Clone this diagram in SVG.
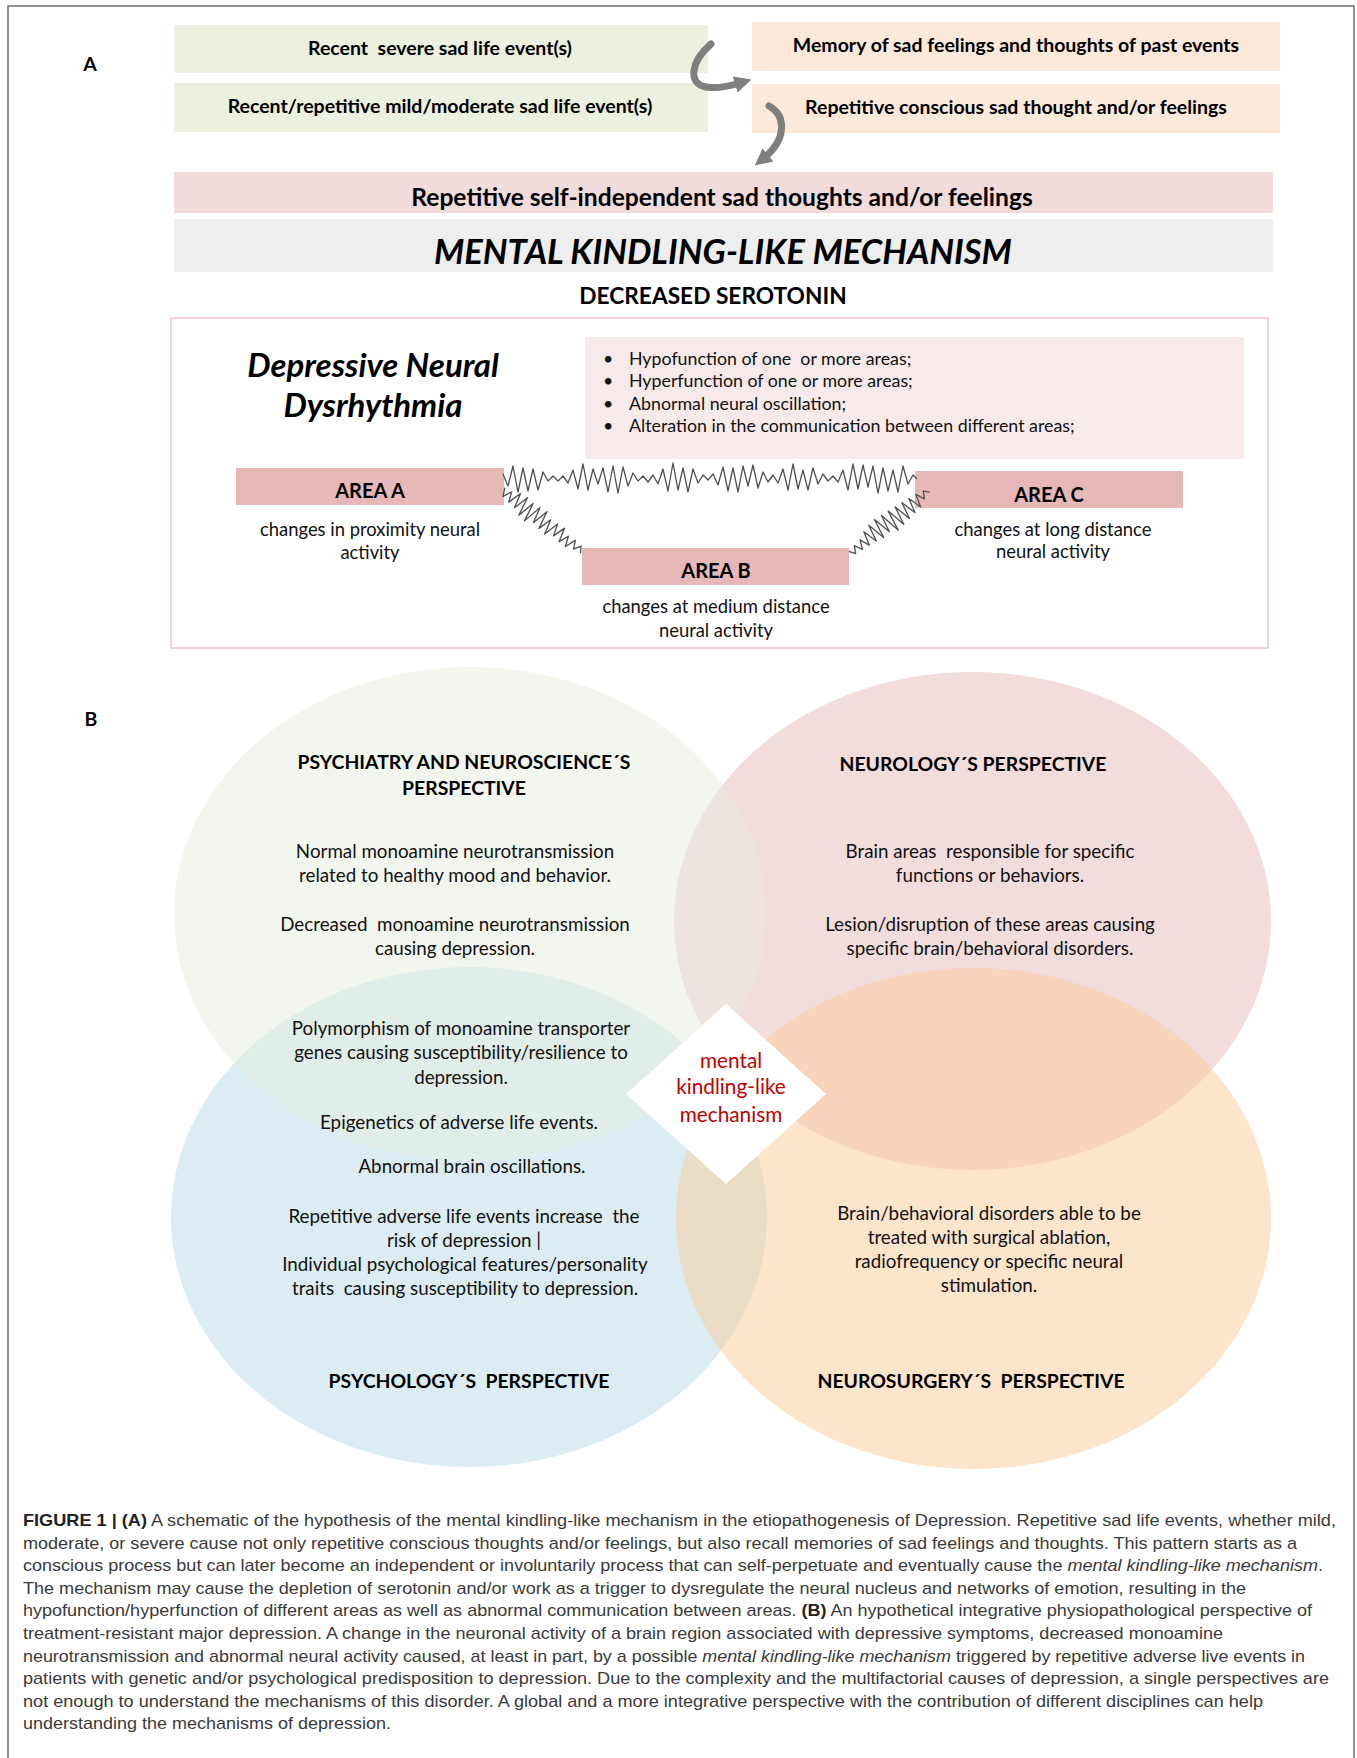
<svg xmlns="http://www.w3.org/2000/svg" width="1357" height="1758" viewBox="0 0 1357 1758">
<defs>
<style>
.lato{font-family:Lato,"Open Sans","Liberation Sans",sans-serif;}
.tb{font-family:Lato,"Open Sans","Liberation Sans",sans-serif;font-weight:bold;font-size:19.5px;fill:#000;text-anchor:middle;}
.body{font-family:Lato,"Open Sans","Liberation Sans",sans-serif;font-size:18.8px;fill:#111;text-anchor:middle;white-space:pre;}
.head{font-family:Lato,"Open Sans","Liberation Sans",sans-serif;font-weight:bold;font-size:19.4px;fill:#000;text-anchor:middle;white-space:pre;}
.area{font-family:Lato,"Open Sans","Liberation Sans",sans-serif;font-weight:bold;font-size:20px;fill:#000;text-anchor:middle;}
.small{font-family:Lato,"Open Sans","Liberation Sans",sans-serif;font-size:18.4px;fill:#111;text-anchor:middle;}
.bul{font-family:Lato,"Open Sans","Liberation Sans",sans-serif;font-size:17.8px;fill:#111;white-space:pre;}
.cap{font-family:"Liberation Sans",Arial,sans-serif;font-size:17px;fill:#3a3a3a;}
.wave{fill:none;stroke:#505050;stroke-width:1.3;stroke-linejoin:round;}
.arr{fill:none;stroke:#7f7f7f;stroke-width:7;stroke-linecap:round;}
.ell{opacity:0.5;}
</style>
<marker id="ah" viewBox="0 0 10 10" refX="3" refY="5" markerWidth="17" markerHeight="17" markerUnits="userSpaceOnUse" orient="auto">
<path d="M0,0 L10,5 L0,10 z" fill="#7f7f7f"/>
</marker>
</defs>
<rect x="0" y="0" width="1357" height="1758" fill="#fff"/>
<rect x="8" y="6" width="1346" height="1770" fill="none" stroke="#777" stroke-width="1.6"/>

<text class="lato" x="90" y="70.5" font-size="19.5" font-weight="bold" text-anchor="middle">A</text>
<text class="lato" x="91" y="726" font-size="19.5" font-weight="bold" text-anchor="middle">B</text>

<g id="node-severe"><rect x="174" y="25" width="534" height="48" fill="#ebf0df"/><text class="tb" x="440" y="54.5" xml:space="preserve">Recent  severe sad life event(s)</text></g>
<g id="node-mild"><rect x="174" y="83" width="534" height="49" fill="#ebf0df"/><text class="tb" x="440" y="112.5">Recent/repetitive mild/moderate sad life event(s)</text></g>
<g id="node-memory"><rect x="752" y="22" width="528" height="49" fill="#fde9da"/><text class="tb" x="1016" y="51.5">Memory of sad feelings and thoughts of past events</text></g>
<g id="node-conscious"><rect x="752" y="84" width="528" height="49" fill="#fde9da"/><text class="tb" x="1016" y="113.5">Repetitive conscious sad thought and/or feelings</text></g>
<g id="node-selfindep"><rect x="174" y="172" width="1099" height="41" fill="#f2dcdb"/><text class="lato" x="722" y="205.5" font-size="24.6" font-weight="bold" text-anchor="middle">Repetitive self-independent sad thoughts and/or feelings</text></g>
<g id="node-mkm"><rect x="174" y="219" width="1099" height="53" fill="#eeeeee"/><text class="lato" x="723" y="263.5" font-size="34.5" font-weight="bold" font-style="italic" text-anchor="middle">MENTAL KINDLING-LIKE MECHANISM</text></g>
<g id="node-serotonin"><text class="lato" x="713" y="304" font-size="22.7" font-weight="bold" text-anchor="middle">DECREASED SEROTONIN</text></g>

<g id="node-dysrhythmia">
<rect x="171" y="318" width="1097" height="330" fill="none" stroke="#f1c8cc" stroke-width="1.6"/>
<text class="lato" x="373" y="377" font-size="33" font-weight="bold" font-style="italic" text-anchor="middle">Depressive Neural</text>
<text class="lato" x="373" y="417" font-size="33" font-weight="bold" font-style="italic" text-anchor="middle">Dysrhythmia</text>
</g>
<g id="node-bullets">
<rect x="585" y="337" width="659" height="122" fill="#f8eaea"/>
<g class="bul">
<text x="603" y="364.5">•</text><text x="629" y="364.5" xml:space="preserve">Hypofunction of one  or more areas;</text>
<text x="603" y="387">•</text><text x="629" y="387">Hyperfunction of one or more areas;</text>
<text x="603" y="409.5">•</text><text x="629" y="409.5">Abnormal neural oscillation;</text>
<text x="603" y="432">•</text><text x="629" y="432">Alteration in the communication between different areas;</text>
</g>
</g>
<g id="node-areaA"><rect x="236" y="468" width="268" height="37" fill="#e6b9b8"/><text class="area" x="370" y="498">AREA A</text>
<text class="small" x="370" y="535.5">changes in proximity neural</text><text class="small" x="370" y="558.5">activity</text></g>
<g id="node-areaB"><rect x="582" y="548" width="267" height="37" fill="#e6b9b8"/><text class="area" x="716" y="578">AREA B</text>
<text class="small" x="716" y="613">changes at medium distance</text><text class="small" x="716" y="636.5">neural activity</text></g>
<g id="node-areaC"><rect x="915" y="471" width="268" height="37" fill="#e6b9b8"/><text class="area" x="1049" y="502">AREA C</text>
<text class="small" x="1053" y="536">changes at long distance</text><text class="small" x="1053" y="558">neural activity</text></g>

<g id="connectors">
<path class="arr" d="M711,44 C690,62 688,84 706,87 C718,89 730,86 740,83" marker-end="url(#ah)"/>
<path class="arr" d="M769,106 C787,116 786,140 764,158" marker-end="url(#ah)"/>
<polyline class="wave" points="503,474 508,486 513,466 518,492 523,468 528,491 533,469 538,490 543,472 548,481 553,476 558,481 563,476 568,483 573,470 578,489 583,464 588,490 593,469 598,484 603,468 608,492 613,466 618,493 623,467 628,486 633,473 638,481 643,476 648,482 653,475 658,484 663,469 668,491 673,463 678,490 683,468 688,492 693,469 698,483 703,475 708,480 713,474 718,485 723,467 728,491 733,468 738,492 743,466 748,486 753,465 758,488 763,472 768,482 773,475 778,483 783,469 788,490 793,464 798,489 803,470 808,490 813,468 818,484 823,474 828,481 833,476 838,482 843,470 848,490 853,464 858,489 863,465 868,487 873,466 878,493 883,468 888,491 893,470 898,492 903,466 908,484 913,475 917,479"/>
<polyline class="wave" transform="translate(503,490) rotate(38.1)" points="0,-3 4,5 8,-4 12,6 16,-8 20,7 24,-9 28,10 32,-8 36,11 40,-9 44,7 48,-10 52,8 56,-6 60,9 64,-7 68,5 72,-8 76,6 80,-4 84,6 88,-5 92,3 96,-4 100,2"/>
<polyline class="wave" transform="translate(850,553) rotate(-38.5)" points="0,-2 4,4 8,-3 12,5 16,-4 20,6 24,-8 28,7 32,-10 36,9 40,-11 44,8 48,-10 52,12 56,-9 60,11 64,-8 68,10 72,-7 76,9 80,-6 84,8 88,-5 92,4 96,-3 100,2"/>
</g>

<g id="node-psychology"><ellipse class="ell" cx="469" cy="1217" rx="298" ry="250" fill="#b7dbe5"/></g>
<g id="node-neurology"><ellipse class="ell" cx="972.5" cy="921" rx="298.5" ry="249" fill="#e5b9b9"/></g>
<g id="node-neurosurgery"><ellipse class="ell" cx="973.5" cy="1218.5" rx="297.5" ry="250.5" fill="#fbcb99"/></g>
<g id="node-psychiatry"><ellipse class="ell" cx="470" cy="914" rx="296" ry="247" fill="#e7eddd"/></g>

<g id="node-center">
<polygon points="726,1004 826,1094 726,1184 626,1094" fill="#fff"/>
<g class="lato" font-size="20.8" fill="#c00000" text-anchor="middle">
<text x="731" y="1067.5">mental</text><text x="731" y="1094">kindling-like</text><text x="731" y="1121.5">mechanism</text>
</g>
</g>

<g id="text-psychiatry">
<text class="head" x="464" y="769">PSYCHIATRY AND NEUROSCIENCE´S</text>
<text class="head" x="464" y="795">PERSPECTIVE</text>
<text class="body" x="455" y="857.5">Normal monoamine neurotransmission</text>
<text class="body" x="455" y="882">related to healthy mood and behavior.</text>
<text class="body" x="455" y="930.5" xml:space="preserve">Decreased  monoamine neurotransmission</text>
<text class="body" x="455" y="954.5">causing depression.</text>
</g>
<g id="text-neurology">
<text class="head" x="973" y="771">NEUROLOGY´S PERSPECTIVE</text>
<text class="body" x="990" y="857.5" xml:space="preserve">Brain areas  responsible for specific</text>
<text class="body" x="990" y="882">functions or behaviors.</text>
<text class="body" x="990" y="930.5">Lesion/disruption of these areas causing</text>
<text class="body" x="990" y="954.5">specific brain/behavioral disorders.</text>
</g>
<g id="text-psychology">
<text class="body" x="461" y="1034.5">Polymorphism of monoamine transporter</text>
<text class="body" x="461" y="1058.5">genes causing susceptibility/resilience to</text>
<text class="body" x="461" y="1083.5">depression.</text>
<text class="body" x="459" y="1128.5">Epigenetics of adverse life events.</text>
<text class="body" x="472" y="1172.5">Abnormal brain oscillations.</text>
<text class="body" x="464" y="1222.5" xml:space="preserve">Repetitive adverse life events increase  the</text>
<text class="body" x="464" y="1246.5">risk of depression |</text>
<text class="body" x="465" y="1271">Individual psychological features/personality</text>
<text class="body" x="465" y="1294.5" xml:space="preserve">traits  causing susceptibility to depression.</text>
<text class="head" x="469" y="1388" xml:space="preserve">PSYCHOLOGY´S  PERSPECTIVE</text>
</g>
<g id="text-neurosurgery">
<text class="body" x="989" y="1219.5">Brain/behavioral disorders able to be</text>
<text class="body" x="989" y="1243.5">treated with surgical ablation,</text>
<text class="body" x="989" y="1267.5">radiofrequency or specific neural</text>
<text class="body" x="989" y="1291.5">stimulation.</text>
<text class="head" x="971" y="1388" xml:space="preserve">NEUROSURGERY´S  PERSPECTIVE</text>
</g>

<g id="caption" class="cap">
<text x="23" y="1526" textLength="1313" lengthAdjust="spacingAndGlyphs"><tspan font-weight="bold" fill="#222">FIGURE 1 | (A)</tspan> A schematic of the hypothesis of the mental kindling-like mechanism in the etiopathogenesis of Depression. Repetitive sad life events, whether mild,</text>
<text x="23" y="1548.6" textLength="1274" lengthAdjust="spacingAndGlyphs">moderate, or severe cause not only repetitive conscious thoughts and/or feelings, but also recall memories of sad feelings and thoughts. This pattern starts as a</text>
<text x="23" y="1571.2" textLength="1300" lengthAdjust="spacingAndGlyphs">conscious process but can later become an independent or involuntarily process that can self-perpetuate and eventually cause the <tspan font-style="italic">mental kindling-like mechanism</tspan>.</text>
<text x="23" y="1593.8" textLength="1223" lengthAdjust="spacingAndGlyphs">The mechanism may cause the depletion of serotonin and/or work as a trigger to dysregulate the neural nucleus and networks of emotion, resulting in the</text>
<text x="23" y="1616.4" textLength="1289" lengthAdjust="spacingAndGlyphs">hypofunction/hyperfunction of different areas as well as abnormal communication between areas. <tspan font-weight="bold" fill="#222">(B)</tspan> An hypothetical integrative physiopathological perspective of</text>
<text x="23" y="1639" textLength="1200" lengthAdjust="spacingAndGlyphs">treatment-resistant major depression. A change in the neuronal activity of a brain region associated with depressive symptoms, decreased monoamine</text>
<text x="23" y="1661.6" textLength="1282" lengthAdjust="spacingAndGlyphs">neurotransmission and abnormal neural activity caused, at least in part, by a possible <tspan font-style="italic">mental kindling-like mechanism</tspan> triggered by repetitive adverse live events in</text>
<text x="23" y="1684.2" textLength="1306" lengthAdjust="spacingAndGlyphs">patients with genetic and/or psychological predisposition to depression. Due to the complexity and the multifactorial causes of depression, a single perspectives are</text>
<text x="23" y="1706.8" textLength="1240" lengthAdjust="spacingAndGlyphs">not enough to understand the mechanisms of this disorder. A global and a more integrative perspective with the contribution of different disciplines can help</text>
<text x="23" y="1729.4" textLength="368" lengthAdjust="spacingAndGlyphs">understanding the mechanisms of depression.</text>
</g>
</svg>
